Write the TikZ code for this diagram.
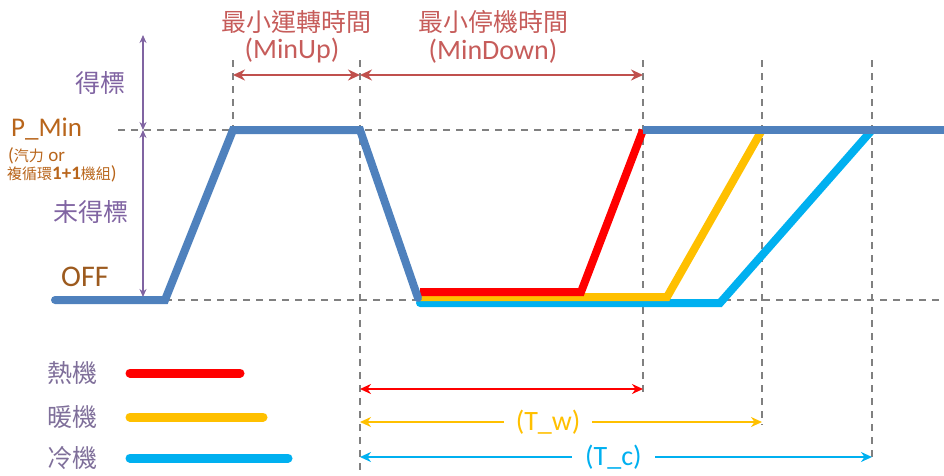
\documentclass[tikz,border=0pt]{standalone}
\usepackage{fontspec}
\setmainfont{Carlito}
\newfontfamily\cjk{Noto Sans CJK TC}
\usetikzlibrary{arrows.meta}
\definecolor{dblue}{HTML}{4F81BD}
\definecolor{hotred}{HTML}{FF0000}
\definecolor{warmyel}{HTML}{FFC000}
\definecolor{coldcyan}{HTML}{00B0F0}
\definecolor{rose}{HTML}{C0504D}
\definecolor{rosetext}{HTML}{C65C5A}
\definecolor{lavender}{HTML}{8064A2}
\definecolor{legtext}{HTML}{7F6F9A}
\definecolor{pbrown}{HTML}{B8651B}
\definecolor{obrown}{HTML}{9C5A1E}
\definecolor{guide}{HTML}{808080}
\tikzset{
  guideline/.style={draw=guide, line width=1.3pt, dash pattern=on 7pt off 6pt},
  curve/.style={line width=8pt, line join=miter},
  legline/.style={line width=9pt, line cap=round},
  spanarrow/.style={line width=2.6pt, {Stealth[length=12pt,width=11pt]}-{Stealth[length=12pt,width=11pt]}},
  lowarrow/.style={line width=2.2pt, {Stealth[length=11pt,width=10pt]}-{Stealth[length=11pt,width=10pt]}},
  lvlarrow/.style={draw=lavender, line width=1.3pt, {Stealth[length=8pt,width=7pt]}-{Stealth[length=8pt,width=7pt]}},
  cjkbig/.style={font=\cjk\fontsize{25}{28}\selectfont, inner sep=0pt},
  latbig/.style={font=\fontsize{28}{30}\selectfont, inner sep=0pt},
  small/.style={font=\fontsize{19}{21}\selectfont, inner sep=0pt},
}
\newcommand{\smallcjk}[1]{{\cjk\fontsize{15}{17}\selectfont #1}}
\begin{document}
\begin{tikzpicture}[x=1pt,y=-1pt]
\useasboundingbox (0,0) rectangle (944,475);
% guide coordinates
\coordinate (hP0) at (118,130); \coordinate (hP1) at (944,130);
\coordinate (hO0) at (165,300); \coordinate (hO1) at (944,300);
\coordinate (v1t) at (233,60); \coordinate (v1b) at (233,130);
\coordinate (v2t) at (360,60); \coordinate (v2b) at (360,475);
\coordinate (v3t) at (643,60); \coordinate (v3b) at (643,392);
\coordinate (v4t) at (762,60); \coordinate (v4b) at (762,425);
\coordinate (v5t) at (872,60); \coordinate (v5b) at (872,462);
\draw[guideline] (hP0) -- (hP1);
\draw[guideline] (hO0) -- (hO1);
\draw[guideline] (v1t) -- (v1b);
\draw[guideline] (v2t) -- (v2b);
\draw[guideline] (v3t) -- (v3b);
\draw[guideline] (v4t) -- (v4b);
\draw[guideline] (v5t) -- (v5b);
% curve coordinates
\coordinate (s0) at (55,300);
\coordinate (a1) at (165,300);
\coordinate (a2) at (233,130);
\coordinate (a3) at (360,130);
\coordinate (a4) at (418,298);
\coordinate (r0) at (420,292); \coordinate (r1) at (581,292); \coordinate (r2) at (643,130);
\coordinate (y0) at (420,297); \coordinate (y1) at (667,297); \coordinate (y2) at (762,130);
\coordinate (c0) at (420,303); \coordinate (c1) at (720,303); \coordinate (c2) at (872,130);
\coordinate (e1) at (950,130);
\draw[curve, coldcyan, line cap=round] (c0) -- (c1) -- (c2);
\draw[curve, warmyel] (y0) -- (y1) -- (y2);
\draw[curve, hotred] (r0) -- (r1) -- (r2);
\draw[curve, dblue, line cap=round] (s0) -- (a1) -- (a2) -- (a3) -- (a4);
\draw[curve, dblue] (r2) -- (e1);
% level arrows
\coordinate (lt) at (143,35); \coordinate (lm) at (143,130); \coordinate (lb) at (143,297);
\draw[lvlarrow] (lt) -- (lm);
\draw[lvlarrow] (lm) -- (lb);
% left labels
\node[cjkbig, text=lavender] (win) at (100,83) {得標};
\node[cjkbig, text=lavender] (nowin) at (91,212) {未得標};
\node[latbig, text=pbrown, anchor=west, font=\fontsize{27}{29}\selectfont] (pmin) at (11,129) {P\_Min};
\node[small, text=pbrown, anchor=west] (pnote1) at (8,156) {(\smallcjk{汽力} or};
\node[small, text=pbrown, anchor=west] (pnote2) at (7,174) {\smallcjk{複循環}\textbf{1+1}\smallcjk{機組})};
\node[latbig, text=obrown, anchor=west, font=\fontsize{30}{32}\selectfont] (off) at (61,277) {OFF};
% top labels
\node[cjkbig, text=rosetext] (upt) at (296,22) {最小運轉時間};
\node[latbig, text=rosetext] (upe) at (292,51) {(MinUp)};
\node[cjkbig, text=rosetext] (dnt) at (493,22) {最小停機時間};
\node[latbig, text=rosetext] (dne) at (493,51) {(MinDown)};
\coordinate (m1) at (233,75); \coordinate (m2) at (360,75); \coordinate (m3) at (643,75);
\draw[spanarrow, rose] (m1) -- (m2);
\draw[spanarrow, rose] (m2) -- (m3);
% bottom span arrows
\coordinate (b1a) at (360,389); \coordinate (b1b) at (643,389);
\coordinate (b2a) at (360,422); \coordinate (b2b) at (762,422);
\coordinate (b3a) at (360,457); \coordinate (b3b) at (872,457);
\draw[lowarrow, hotred] (b1a) -- (b1b);
\draw[lowarrow, warmyel] (b2a) -- (b2b) node[latbig, pos=0.468, fill=white, inner xsep=12pt, inner ysep=0pt, text=warmyel] (tw) {(T\_w)};
\draw[lowarrow, coldcyan] (b3a) -- (b3b) node[latbig, pos=0.495, fill=white, inner xsep=13pt, inner ysep=0pt, text=coldcyan] (tc) {(T\_c)};
% legend
\node[cjkbig, text=legtext] (lhot) at (72,373) {熱機};
\node[cjkbig, text=legtext] (lwarm) at (72,417) {暖機};
\node[cjkbig, text=legtext] (lcold) at (72,458) {冷機};
\coordinate (lh0) at (130,373); \coordinate (lh1) at (240,373);
\coordinate (lw0) at (130,417); \coordinate (lw1) at (263,417);
\coordinate (lc0) at (130,458); \coordinate (lc1) at (288,458);
\draw[legline, hotred] (lh0) -- (lh1);
\draw[legline, warmyel] (lw0) -- (lw1);
\draw[legline, coldcyan] (lc0) -- (lc1);
\end{tikzpicture}
\end{document}
